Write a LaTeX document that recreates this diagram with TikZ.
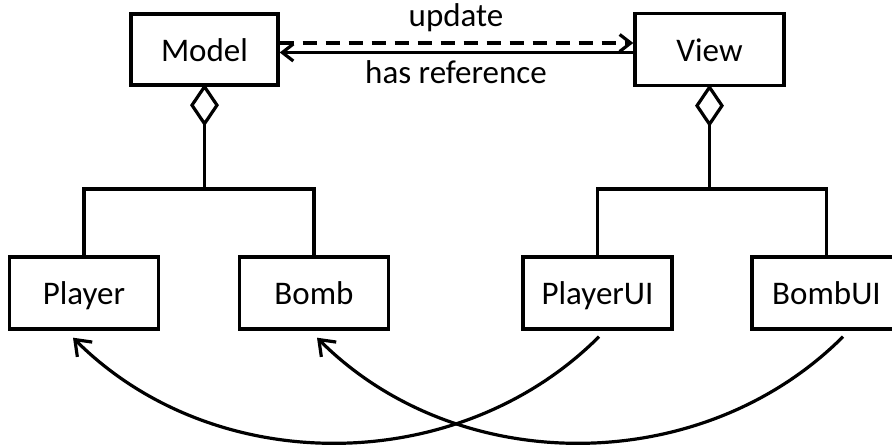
\documentclass[tikz,border=0pt]{standalone}
\usepackage{fontspec}
\setmainfont{Carlito}
\usetikzlibrary{arrows.meta}
\begin{document}
\begin{tikzpicture}[x=1pt,y=-1pt,
  box/.style={draw, line width=3.4pt, minimum width=147pt, minimum height=71pt, inner sep=0pt,
    font=\fontsize{33}{40}\selectfont, text=black, text height=23.5pt, text depth=0pt},
  wbox/.style={box, minimum width=149pt, minimum height=72pt},
  conn/.style={line width=3.2pt},
  lbl/.style={font=\fontsize{33}{40}\selectfont, text=black, inner sep=0pt},
  toparrow/.style={line width=3.2pt, -{Straight Barb[length=11pt,width=17pt]}},
  curvearrow/.style={line width=3.2pt, -{Straight Barb[length=14pt,width=21pt]}}]
\useasboundingbox (0,0) rectangle (892,446);
\fill[white] (0,0) rectangle (892,446);
\clip (0,0) rectangle (892,446);

\node[box] (Model) at (204.5,49.5) {Model};
\node[wbox] (View) at (709.5,49.5) {View};
\node[wbox] (Player) at (84,293) {Player};
\node[wbox] (Bomb) at (314,293) {Bomb};
\node[wbox] (PlayerUI) at (597.5,293) {PlayerUI};
\node[wbox] (BombUI) at (826.5,293) {BombUI};

% top associations
\draw[toparrow, dash pattern=on 14pt off 9pt] ([yshift=6.5pt]Model.east) -- ([yshift=6.5pt]View.west);
\draw[toparrow] ([yshift=-3pt]View.west) -- ([yshift=-3pt]Model.east);
\node[lbl] (upd) at (456,18) {update};
\node[lbl] (hasref) at (456,72) {has reference};

% aggregation Model
\draw[conn, line join=miter] (Model.south) -- ++(12.5,18.5) -- ++(-12.5,18.5) coordinate (md) -- ++(-12.5,-18.5) -- cycle;
\coordinate (mj) at (204.5,189);
\draw[conn] (md) -- (mj);
\draw[conn] (Player.north) |- (mj) -| (Bomb.north);

% aggregation View
\draw[conn, line join=miter] (View.south) -- ++(12.5,18.5) -- ++(-12.5,18.5) coordinate (vd) -- ++(-12.5,-18.5) -- cycle;
\coordinate (vj) at (709.5,189);
\draw[conn] (vd) -- (vj);
\draw[conn] (PlayerUI.north) |- (vj) -| (BombUI.north);

% crossing curves
\draw[curvearrow] ([xshift=1.5pt,yshift=-6pt]PlayerUI.south) .. controls +(-141,141) and +(141,141) .. ([xshift=-11pt,yshift=-7pt]Player.south);
\draw[curvearrow] ([xshift=16.5pt,yshift=-6pt]BombUI.south) .. controls +(-141,141) and +(141,141) .. ([xshift=3pt,yshift=-7pt]Bomb.south);
\end{tikzpicture}
\end{document}
